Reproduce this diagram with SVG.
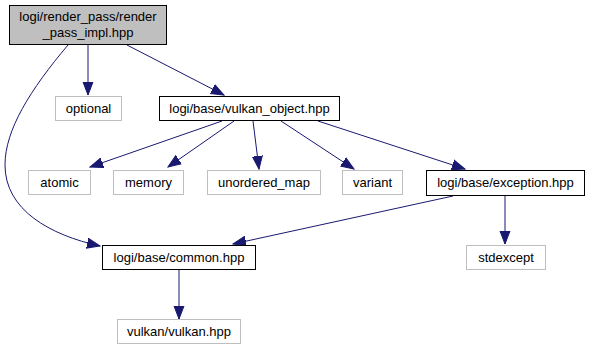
<svg xmlns="http://www.w3.org/2000/svg" width="590" height="351" viewBox="0 0 590 351">
<defs>
  <marker id="arr" markerWidth="14" markerHeight="12" refX="13" refY="5.5" orient="auto" markerUnits="userSpaceOnUse" viewBox="0 0 14 11">
    <path d="M0,0.5 L13,5.5 L0,10.5 Z" fill="#191970" stroke="#191970"/>
  </marker>
  <style>
    .node rect { fill: #ffffff; stroke: #000000; stroke-width: 1; }
    .node.root rect { fill: #bfbfbf; }
    .node.ext rect { stroke: #bfbfbf; }
    text { font-family: "Liberation Sans", Arial, sans-serif; font-size: 13px; fill: #000000; text-anchor: middle; }
    .edge { fill: none; stroke: #191970; stroke-width: 1; marker-end: url(#arr); }
  </style>
</defs>
<rect width="590" height="351" fill="#ffffff"/>

<g id="edges">
  <path class="edge" d="M88,45 L88,95"/>
  <path class="edge" d="M127,45 L224,95"/>
  <path class="edge" d="M68,45 C30,90 5,130 5,165 C5,210 50,235 100,246"/>
  <path class="edge" d="M222,121 L90,167"/>
  <path class="edge" d="M234,121 L168,167"/>
  <path class="edge" d="M253,121 L259,169"/>
  <path class="edge" d="M281,121 L354,169"/>
  <path class="edge" d="M318,121 L465,169"/>
  <path class="edge" d="M453,196 L233,244"/>
  <path class="edge" d="M505,196 L505,244"/>
  <path class="edge" d="M179,270 L179,319"/>
</g>

<g id="node-root" class="node root">
  <rect x="9.5" y="5.5" width="157" height="39"/>
  <text x="88" y="21">logi/render_pass/render</text>
  <text x="88" y="37">_pass_impl.hpp</text>
</g>
<g id="node-optional" class="node ext">
  <rect x="55.5" y="96.5" width="66" height="24"/>
  <text x="88.5" y="113">optional</text>
</g>
<g id="node-vulkan-object" class="node">
  <rect x="159.5" y="96.5" width="180" height="24"/>
  <text x="249.5" y="113">logi/base/vulkan_object.hpp</text>
</g>
<g id="node-atomic" class="node ext">
  <rect x="28.5" y="170.5" width="62" height="24"/>
  <text x="59.5" y="187">atomic</text>
</g>
<g id="node-memory" class="node ext">
  <rect x="113.5" y="170.5" width="70" height="24"/>
  <text x="148.5" y="187">memory</text>
</g>
<g id="node-unordered-map" class="node ext">
  <rect x="207.5" y="170.5" width="113" height="24"/>
  <text x="264" y="187">unordered_map</text>
</g>
<g id="node-variant" class="node ext">
  <rect x="342.5" y="170.5" width="60" height="24"/>
  <text x="372.5" y="187">variant</text>
</g>
<g id="node-exception" class="node">
  <rect x="426.5" y="170.5" width="158" height="25"/>
  <text x="505.5" y="187">logi/base/exception.hpp</text>
</g>
<g id="node-common" class="node">
  <rect x="102.5" y="245.5" width="153" height="24"/>
  <text x="179" y="262">logi/base/common.hpp</text>
</g>
<g id="node-stdexcept" class="node ext">
  <rect x="466.5" y="245.5" width="79" height="24"/>
  <text x="506" y="262">stdexcept</text>
</g>
<g id="node-vulkan" class="node ext">
  <rect x="117.5" y="319.5" width="123" height="24"/>
  <text x="179" y="336">vulkan/vulkan.hpp</text>
</g>
</svg>
